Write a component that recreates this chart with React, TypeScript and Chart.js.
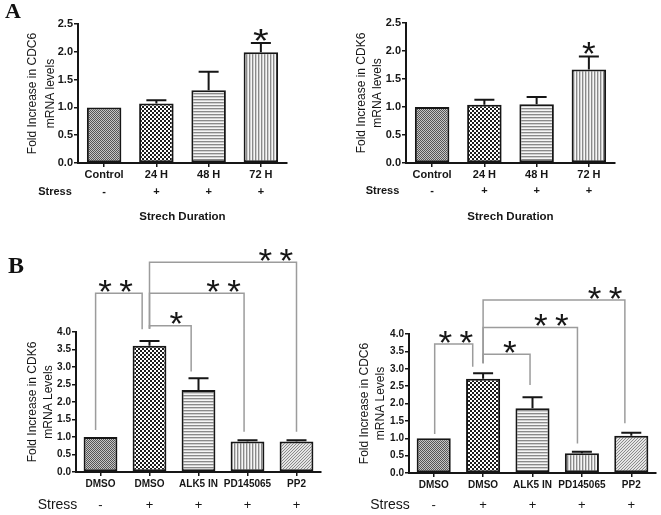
import React, { useEffect, useRef } from "react";
import { Chart, registerables } from "chart.js";

Chart.register(...registerables);

// ---------- DATA ----------
// Panel A: stretch duration
const durationLabels = ["Control", "24 H", "48 H", "72 H"];
const durationStress = ["-", "+", "+", "+"];
const durationTicks = [0, 0.5, 1.0, 1.5, 2.0, 2.5];
const cdc6DurationValues = [1.0, 1.07, 1.31, 1.99];
const cdc6DurationErrors = [0, 0.06, 0.33, 0.17];
const cdk6DurationValues = [1.0, 1.04, 1.05, 1.67];
const cdk6DurationErrors = [0, 0.09, 0.13, 0.23];
const cdc6DurationStars = [[3, 2.31, 1]];
const cdk6DurationStars = [[3, 2.05, 1]];

// Panel B: inhibitors
const inhibitorLabels = ["DMSO", "DMSO", "ALK5 IN", "PD145065", "PP2"];
const inhibitorStress = ["-", "+", "+", "+", "+"];
const inhibitorTicks = [0, 0.5, 1.0, 1.5, 2.0, 2.5, 3.0, 3.5, 4.0];
const cdk6InhibitorValues = [1.0, 3.61, 2.34, 0.87, 0.87];
const cdk6InhibitorErrors = [0, 0.13, 0.34, 0.04, 0.04];
const cdc6InhibitorValues = [1.0, 2.71, 1.86, 0.57, 1.07];
const cdc6InhibitorErrors = [0, 0.16, 0.32, 0.04, 0.09];

// significance brackets: [fromIdx, fromBottom, top, toIdx, toBottom, starIdx, starValue, starCount]
const cdk6Brackets = [
  [-0.1, 1.2, 5.11, 0.85, 4.08, 0.31, 5.32, 2],
  [1.0, 4.09, 5.99, 4.0, 1.15, 3.58, 6.2, 2],
  [1.0, 4.09, 5.11, 2.93, 1.15, 2.51, 5.32, 2],
  [1.0, 4.09, 4.18, 1.85, 2.87, 1.55, 4.39, 1],
];
const cdc6Brackets = [
  [0.02, 1.12, 3.71, 0.79, 3.06, 0.45, 3.92, 2],
  [1.0, 3.16, 4.98, 3.87, 1.43, 3.47, 5.17, 2],
  [1.0, 3.16, 4.19, 2.91, 0.85, 2.38, 4.4, 2],
  [1.0, 3.16, 3.42, 1.95, 2.53, 1.54, 3.63, 1],
];

const durationPatterns = ["fine", "check", "hlines", "vlines"];
const inhibitorPatterns = ["fine", "check", "hlines", "vlines", "diag"];

// ---------- STYLE ----------
const FONT = 'Arial, "Liberation Sans", Helvetica, sans-serif';
const INK = "#161616";

function makePattern(kind: string): CanvasPattern | string {
  const c = document.createElement("canvas");
  const g = c.getContext("2d")!;
  const px = (x: number, y: number, col: string) => {
    g.fillStyle = col;
    g.fillRect(x, y, 1, 1);
  };
  if (kind === "fine") {
    c.width = 2; c.height = 2;
    g.fillStyle = "#c6c6c6"; g.fillRect(0, 0, 2, 2);
    px(0, 0, "#555"); px(1, 1, "#555");
  } else if (kind === "check") {
    c.width = 4; c.height = 4;
    g.fillStyle = "#fff"; g.fillRect(0, 0, 4, 4);
    g.fillStyle = "#1c1c1c"; g.fillRect(0, 0, 2, 2); g.fillRect(2, 2, 2, 2);
  } else if (kind === "hlines") {
    c.width = 1; c.height = 3;
    px(0, 0, "#8a8a8a"); px(0, 1, "#cfcfcf"); px(0, 2, "#f6f6f6");
  } else if (kind === "vlines") {
    c.width = 3; c.height = 1;
    px(0, 0, "#8a8a8a"); px(1, 0, "#cfcfcf"); px(2, 0, "#f6f6f6");
  } else {
    c.width = 3; c.height = 3;
    g.fillStyle = "#e4e4e4"; g.fillRect(0, 0, 3, 3);
    px(0, 2, "#8a8a8a"); px(1, 1, "#8a8a8a"); px(2, 0, "#8a8a8a");
  }
  return g.createPattern(c, "repeat") || "#999";
}

function drawStar(ctx: CanvasRenderingContext2D, x: number, y: number, inkW: number, inkH: number) {
  ctx.save();
  ctx.font = `100px ${FONT}`;
  ctx.textAlign = "left";
  ctx.textBaseline = "alphabetic";
  const m = ctx.measureText("*");
  const L = m.actualBoundingBoxLeft || 0;
  const R = m.actualBoundingBoxRight || 30;
  const A = m.actualBoundingBoxAscent || 70;
  const D = m.actualBoundingBoxDescent || -40;
  const w = L + R || 30;
  const h = A + D || 30;
  ctx.translate(x, y);
  ctx.scale(inkW / w, inkH / h);
  ctx.fillText("*", -(R - L) / 2, -(D - A) / 2);
  ctx.restore();
}

type Spec = {
  left: number; top: number; width: number; height: number;
  area: { l: number; t: number; r: number; b: number };
  labels: string[]; values: number[]; errors: number[]; patterns: string[];
  ticks: number[]; yMax: number; barPct: number;
  yTitle: string[]; titleLH: number; titlePad: number;
  tickSize: number; xTickPad: number;
  stressX: number; stressY: number; stressFont: string; signFont: string; signs: string[];
  xTitle?: string; xTitleY?: number;
  stars: number[][]; brackets: number[][]; starW: number; starH: number; cap: number;
};

function annotPlugin(s: Spec) {
  return {
    id: "annot",
    afterDatasetsDraw(chart: any) {
      const ctx: CanvasRenderingContext2D = chart.ctx;
      const ys = chart.scales.y;
      const meta = chart.getDatasetMeta(0);
      ctx.save();
      ctx.strokeStyle = INK;
      ctx.lineWidth = 2;
      s.values.forEach((v, i) => {
        const e = s.errors[i];
        if (!e) return;
        const bx = meta.data[i].x;
        const y0 = ys.getPixelForValue(v);
        const y1 = ys.getPixelForValue(v + e);
        ctx.beginPath();
        ctx.moveTo(bx, y0);
        ctx.lineTo(bx, y1);
        ctx.moveTo(bx - s.cap / 2, y1);
        ctx.lineTo(bx + s.cap / 2, y1);
        ctx.stroke();
      });
      ctx.restore();
    },
    afterDraw(chart: any) {
      const ctx: CanvasRenderingContext2D = chart.ctx;
      const xs = chart.scales.x;
      const ys = chart.scales.y;
      const ca = chart.chartArea;
      ctx.save();
      // brackets
      ctx.strokeStyle = "#9c9c9c";
      ctx.lineWidth = 1.5;
      s.brackets.forEach((b) => {
        const [x1, y1b, yt, x2, y2b] = b;
        ctx.beginPath();
        ctx.moveTo(xs.getPixelForValue(x1), ys.getPixelForValue(y1b));
        ctx.lineTo(xs.getPixelForValue(x1), ys.getPixelForValue(yt));
        ctx.lineTo(xs.getPixelForValue(x2), ys.getPixelForValue(yt));
        ctx.lineTo(xs.getPixelForValue(x2), ys.getPixelForValue(y2b));
        ctx.stroke();
      });
      // stars
      ctx.fillStyle = INK;
      const allStars = [
        ...s.stars.map((st) => [st[0], st[1], st[2]]),
        ...s.brackets.map((b) => [b[5], b[6], b[7]]),
      ];
      allStars.forEach(([xi, yv, n]) => {
        const cx = xs.getPixelForValue(xi);
        const cy = ys.getPixelForValue(yv);
        const gap = 21;
        for (let k = 0; k < n; k++) {
          const off = (k - (n - 1) / 2) * gap;
          drawStar(ctx, cx + off, cy, s.starW, s.starH);
        }
      });
      // stress row
      ctx.fillStyle = INK;
      ctx.textAlign = "center";
      ctx.textBaseline = "middle";
      ctx.font = s.stressFont;
      ctx.fillText("Stress", s.stressX, s.stressY);
      ctx.font = s.signFont;
      s.signs.forEach((sg, i) => {
        ctx.fillText(sg, xs.getPixelForValue(i), s.stressY);
      });
      if (s.xTitle) {
        ctx.font = `bold 11.5px ${FONT}`;
        ctx.fillText(s.xTitle, (ca.left + ca.right) / 2, s.xTitleY!);
      }
      ctx.restore();
    },
  };
}

function Panel({ spec }: { spec: Spec }) {
  const ref = useRef<HTMLCanvasElement>(null);
  useEffect(() => {
    const s = spec;
    const xScaleH = 22;
    const chart = new Chart(ref.current!, {
      type: "bar",
      data: {
        labels: s.labels,
        datasets: [
          {
            data: s.values,
            backgroundColor: s.patterns.map(makePattern) as any,
            borderColor: INK,
            borderWidth: 2,
            borderSkipped: false,
            barPercentage: s.barPct,
            categoryPercentage: 1,
          },
        ],
      },
      options: {
        responsive: false,
        animation: false,
        devicePixelRatio: 1,
        layout: {
          padding: {
            left: 0,
            top: s.area.t,
            right: s.width - s.area.r,
            bottom: s.height - s.area.b - xScaleH,
          },
        },
        plugins: { legend: { display: false }, tooltip: { enabled: false }, title: { display: false } },
        scales: {
          x: {
            afterFit: (sc: any) => { sc.height = xScaleH; },
            grid: { offset: false, drawOnChartArea: false, drawTicks: true, tickLength: 4, color: INK, lineWidth: 1.5 },
            border: { color: INK, width: 2 },
            ticks: {
              color: INK,
              font: { family: FONT, size: s.tickSize, weight: "bold" },
              padding: s.xTickPad,
              maxRotation: 0,
              autoSkip: false,
            },
          },
          y: {
            min: 0,
            max: s.yMax,
            afterFit: (sc: any) => { sc.width = s.area.l; },
            afterBuildTicks: (sc: any) => { sc.ticks = s.ticks.map((v) => ({ value: v })); },
            grid: { drawOnChartArea: false, drawTicks: true, tickLength: 4, color: INK, lineWidth: 1.5 },
            border: { color: INK, width: 2 },
            ticks: {
              color: INK,
              font: { family: FONT, size: s.tickSize, weight: "bold" },
              padding: 1,
              callback: (v: any) => Number(v).toFixed(1),
            },
            title: {
              display: true,
              text: s.yTitle,
              color: INK,
              font: { family: FONT, size: 12, lineHeight: `${s.titleLH}px` },
              padding: { top: s.titlePad, bottom: 0 },
            },
          },
        },
      } as any,
      plugins: [annotPlugin(s)],
    });
    return () => chart.destroy();
  }, []);
  return (
    <canvas
      ref={ref}
      width={spec.width}
      height={spec.height}
      style={{ position: "absolute", left: spec.left, top: spec.top, width: spec.width, height: spec.height }}
    />
  );
}

const specs: Spec[] = [
  {
    left: 0, top: 0, width: 330, height: 230,
    area: { l: 78, t: 24, r: 287, b: 163 },
    labels: durationLabels, values: cdc6DurationValues, errors: cdc6DurationErrors, patterns: durationPatterns,
    ticks: durationTicks, yMax: 2.5, barPct: 0.66,
    yTitle: ["Fold Increase in CDC6", "mRNA levels"], titleLH: 18, titlePad: 24,
    tickSize: 11, xTickPad: 1,
    stressX: 55, stressY: 192, stressFont: `bold 11px ${FONT}`, signFont: `bold 11px ${FONT}`, signs: durationStress,
    xTitle: "Strech Duration", xTitleY: 217,
    stars: cdc6DurationStars, brackets: [], starW: 15, starH: 12, cap: 20,
  },
  {
    left: 330, top: 0, width: 331, height: 230,
    area: { l: 76, t: 23, r: 285, b: 163 },
    labels: durationLabels, values: cdk6DurationValues, errors: cdk6DurationErrors, patterns: durationPatterns,
    ticks: durationTicks, yMax: 2.5, barPct: 0.66,
    yTitle: ["Fold Increase in CDK6", "mRNA levels"], titleLH: 16, titlePad: 24,
    tickSize: 11, xTickPad: 1,
    stressX: 52.5, stressY: 191, stressFont: `bold 11px ${FONT}`, signFont: `bold 11px ${FONT}`, signs: durationStress,
    xTitle: "Strech Duration", xTitleY: 217,
    stars: cdk6DurationStars, brackets: [], starW: 13, starH: 12, cap: 20,
  },
  {
    left: 0, top: 230, width: 330, height: 285,
    area: { l: 76, t: 102, r: 321, b: 242 },
    labels: inhibitorLabels, values: cdk6InhibitorValues, errors: cdk6InhibitorErrors, patterns: inhibitorPatterns,
    ticks: inhibitorTicks, yMax: 4, barPct: 0.69,
    yTitle: ["Fold Increase in CDK6", "mRNA Levels"], titleLH: 16, titlePad: 25,
    tickSize: 10, xTickPad: 2,
    stressX: 57.5, stressY: 275, stressFont: `14px ${FONT}`, signFont: `13px ${FONT}`, signs: inhibitorStress,
    stars: [], brackets: cdk6Brackets, starW: 13, starH: 12, cap: 20,
  },
  {
    left: 330, top: 230, width: 331, height: 285,
    area: { l: 79, t: 104, r: 326, b: 243 },
    labels: inhibitorLabels, values: cdc6InhibitorValues, errors: cdc6InhibitorErrors, patterns: inhibitorPatterns,
    ticks: inhibitorTicks, yMax: 4, barPct: 0.69,
    yTitle: ["Fold Increase in CDC6", "mRNA Levels"], titleLH: 16, titlePad: 27,
    tickSize: 10, xTickPad: 2,
    stressX: 60, stressY: 275, stressFont: `14px ${FONT}`, signFont: `13px ${FONT}`, signs: inhibitorStress,
    stars: [], brackets: cdc6Brackets, starW: 13, starH: 12, cap: 20,
  },
];

export default function App() {
  const letter: React.CSSProperties = {
    position: "absolute",
    fontFamily: '"Liberation Serif", "Times New Roman", serif',
    fontWeight: "bold",
    lineHeight: 1,
    color: "#111",
  };
  return (
    <div style={{ position: "absolute", left: 0, top: 0, width: 661, height: 515, background: "#fff", overflow: "hidden" }}>
      {specs.map((s, i) => (
        <Panel key={i} spec={s} />
      ))}
      <div style={{ ...letter, left: 5, top: 0, fontSize: 22 }}>A</div>
      <div style={{ ...letter, left: 8, top: 253, fontSize: 24 }}>B</div>
    </div>
  );
}
